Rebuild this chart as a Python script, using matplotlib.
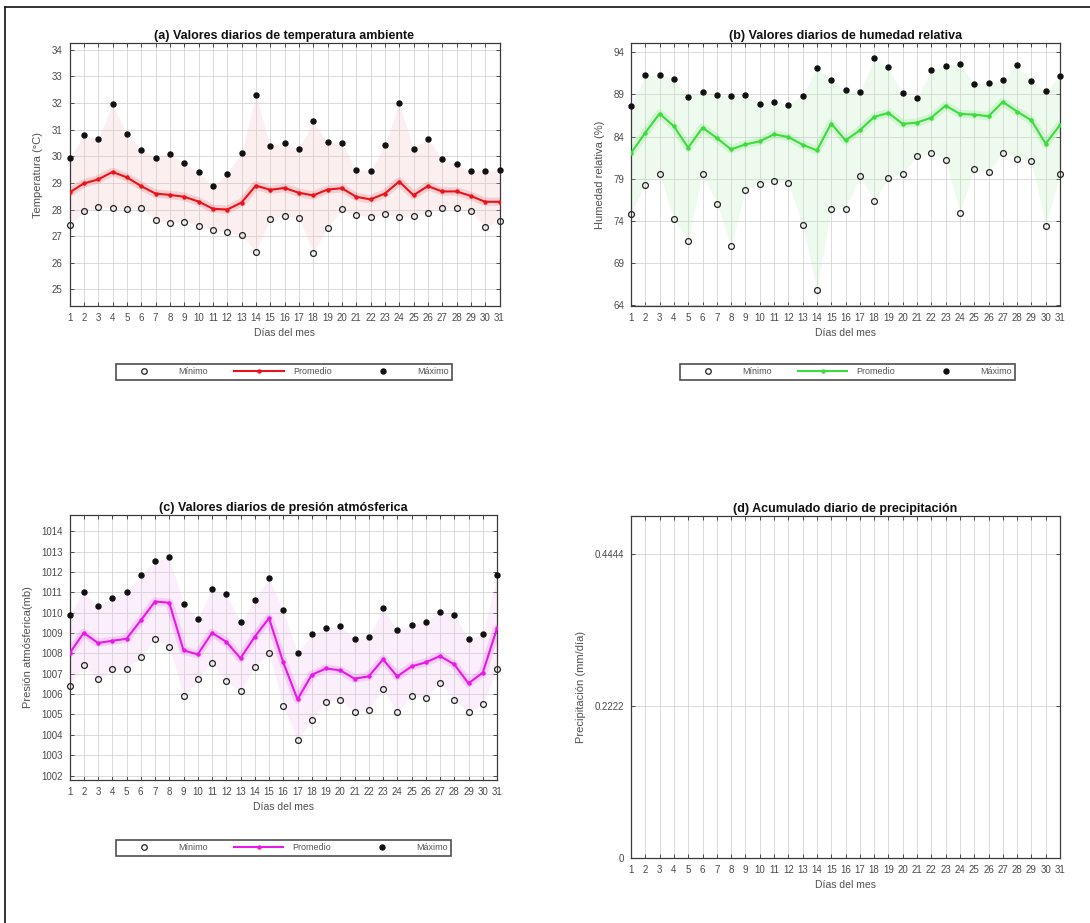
import matplotlib
matplotlib.use("Agg")
import matplotlib.pyplot as plt
from matplotlib.lines import Line2D

plt.rcParams['font.family'] = ['Liberation Sans', 'DejaVu Sans']

days = list(range(1, 32))
day_labels = [str(d) for d in days]

temp_max = [29.95, 30.8, 30.65, 31.95, 30.84, 30.25, 29.94, 30.08, 29.75, 29.4,
            28.88, 29.35, 30.14, 32.31, 30.4, 30.51, 30.28, 31.31, 30.53, 30.51,
            29.48, 29.45, 30.43, 32.0, 30.28, 30.66, 29.88, 29.71, 29.45, 29.45, 29.48]
temp_min = [27.41, 27.93, 28.1, 28.06, 28.03, 28.06, 27.6, 27.51, 27.55, 27.38,
            27.23, 27.16, 27.04, 26.41, 27.66, 27.75, 27.68, 26.38, 27.3, 28.01,
            27.81, 27.71, 27.83, 27.73, 27.74, 27.88, 28.05, 28.04, 27.94, 27.33, 27.58]
temp_avg = [28.64, 28.98, 29.13, 29.41, 29.21, 28.88, 28.6, 28.55, 28.48, 28.3,
            28.03, 28.0, 28.26, 28.9, 28.74, 28.81, 28.63, 28.53, 28.75, 28.8,
            28.48, 28.38, 28.6, 29.05, 28.54, 28.88, 28.68, 28.68, 28.51, 28.29, 28.29]

hum_max = [87.6, 91.26, 91.34, 90.82, 88.72, 89.27, 88.91, 88.87, 88.91, 87.92,
           88.16, 87.8, 88.87, 92.13, 90.7, 89.47, 89.23, 93.28, 92.21, 89.11,
           88.56, 91.93, 92.41, 92.61, 90.23, 90.38, 90.7, 92.49, 90.54, 89.35, 91.22]
hum_min = [74.81, 78.31, 79.58, 74.17, 71.63, 79.58, 76.0, 70.96, 77.71, 78.43,
           78.74, 78.47, 73.5, 65.75, 75.41, 75.37, 79.3, 76.4, 79.06, 79.58,
           81.68, 82.04, 81.17, 74.93, 80.21, 79.74, 82.04, 81.33, 81.05, 73.34, 79.58]
hum_avg = [82.04, 84.46, 86.73, 85.22, 82.68, 85.06, 83.83, 82.48, 83.07, 83.43,
           84.27, 83.95, 83.03, 82.36, 85.54, 83.55, 84.74, 86.33, 86.81, 85.5,
           85.66, 86.25, 87.68, 86.69, 86.61, 86.41, 88.12, 86.97, 85.93, 83.15, 85.38]

pres_max = [1009.91, 1011.02, 1010.32, 1010.73, 1011.02, 1011.83, 1012.53, 1012.72, 1010.44, 1009.70,
            1011.14, 1010.93, 1009.54, 1010.62, 1011.71, 1010.11, 1008.03, 1008.93, 1009.23, 1009.34,
            1008.72, 1008.83, 1010.24, 1009.13, 1009.42, 1009.54, 1010.03, 1009.91, 1008.72, 1008.93, 1011.83]
pres_min = [1006.41, 1007.43, 1006.73, 1007.21, 1007.21, 1007.82, 1008.72, 1008.33, 1005.92, 1006.73,
            1007.53, 1006.63, 1006.14, 1007.33, 1008.02, 1005.42, 1003.73, 1004.73, 1005.63, 1005.73,
            1005.12, 1005.24, 1006.23, 1005.12, 1005.92, 1005.83, 1006.53, 1005.73, 1005.12, 1005.53, 1007.21]
pres_avg = [1008.0, 1009.01, 1008.51, 1008.62, 1008.72, 1009.62, 1010.55, 1010.49, 1008.15, 1007.95,
            1009.01, 1008.57, 1007.76, 1008.82, 1009.73, 1007.56, 1005.74, 1006.95, 1007.26, 1007.17,
            1006.76, 1006.87, 1007.71, 1006.87, 1007.36, 1007.56, 1007.87, 1007.46, 1006.53, 1007.05, 1009.23]

precip = [0, 0, 0, 0, 0, 0, 0, 0, 0, 0, 0, 0, 0, 0, 0, 0, 0, 0, 0, 0,
          0, 0, 0, 0, 0, 0, 0, 0, 0, 0, 0]

temp_ticks = [25, 26, 27, 28, 29, 30, 31, 32, 33, 34]
hum_ticks = [64, 69, 74, 79, 84, 89, 94]
pres_ticks = list(range(1002, 1015))
precip_ticks = [0, 0.2222, 0.4444]
precip_ticklabels = ['0', '0.2222', '0.4444']

legend_labels = ['Mínimo', 'Promedio', 'Máximo']

W, H = 1090, 923
fig = plt.figure(figsize=(W / 100, H / 100), dpi=100)

def fx(px):
    return px / W

def fy(py):
    return 1 - py / H

def make_ax(l, r, t, b):
    return fig.add_axes([fx(l), fy(b), fx(r) - fx(l), fy(t) - fy(b)])

TICK_COLOR = '#4a4a4a'

def style(ax, ticks, ticklabels=None, ylim=None):
    ax.set_xlim(1, 31)
    ax.set_xticks(days)
    ax.set_xticklabels(day_labels)
    ax.set_yticks(ticks)
    if ticklabels is not None:
        ax.set_yticklabels(ticklabels)
    if ylim is not None:
        ax.set_ylim(*ylim)
    ax.tick_params(axis='both', direction='in', top=True, right=True,
                   length=3, width=0.6, labelsize=7, colors='#333333',
                   labelcolor=TICK_COLOR, pad=5)
    ax.grid(True, color='#d4d4d4', linewidth=0.6)
    ax.set_axisbelow(True)
    for s in ax.spines.values():
        s.set_color('#3a3a3a')
        s.set_linewidth(0.9)
    ax.set_xlabel('Días del mes', fontsize=7.5, color='#505050', labelpad=4)

def draw_panel(ax, mn, av, mx, color, fill):
    ax.fill_between(days, mn, mx, color=fill, alpha=0.22, linewidth=0, zorder=1)
    ax.plot(days, av, color=color, linewidth=6, alpha=0.15, zorder=2,
            solid_capstyle='round')
    ax.plot(days, av, color=color, linewidth=1.5, marker='o', markersize=2.2,
            zorder=3)
    ax.plot(days, mn, linestyle='none', marker='o', markersize=4.2,
            markerfacecolor='none', markeredgecolor='#222222',
            markeredgewidth=0.9, zorder=4, clip_on=False)
    ax.plot(days, mx, linestyle='none', marker='o', markersize=3.6,
            markerfacecolor='#111111', markeredgecolor='#111111', zorder=4,
            clip_on=False)

def add_legend(color, l, r, t, b):
    handles = [
        Line2D([], [], linestyle='none', marker='o', markersize=4,
               markerfacecolor='none', markeredgecolor='#222222', markeredgewidth=0.9),
        Line2D([], [], color=color, linewidth=1.5, marker='o', markersize=2.2),
        Line2D([], [], linestyle='none', marker='o', markersize=3.6,
               markerfacecolor='#111111', markeredgecolor='#111111'),
    ]
    leg = fig.legend(handles, legend_labels, loc='center', ncol=3,
                     bbox_to_anchor=(fx(l), fy(b), fx(r) - fx(l), fy(t) - fy(b)),
                     mode='expand', fontsize=6.5, handlelength=5.5,
                     handletextpad=1.0, columnspacing=1.0, borderpad=0.35,
                     frameon=True, fancybox=False, borderaxespad=0)
    leg.get_frame().set_edgecolor('#222222')
    leg.get_frame().set_linewidth(1.2)
    for t_ in leg.get_texts():
        t_.set_color('#555555')
    return leg

# (a) temperature
axa = make_ax(69.5, 499.5, 43, 306)
draw_panel(axa, temp_min, temp_avg, temp_max, '#e8141b', '#f5b8bd')
style(axa, temp_ticks, ylim=(24.38, 34.25))
axa.set_title('(a) Valores diarios de temperatura ambiente', fontsize=9,
              fontweight='bold', color='#111111', pad=3)
axa.set_ylabel('Temperatura (°C)', fontsize=8, color='#505050', labelpad=6)
add_legend('#e8141b', 116, 452, 361, 383)

# (b) humidity
axb = make_ax(631, 1060, 43, 306)
draw_panel(axb, hum_min, hum_avg, hum_max, '#3ddc3d', '#b8ecb8')
style(axb, hum_ticks, ylim=(63.9, 95.1))
axb.set_title('(b) Valores diarios de humedad relativa', fontsize=9,
              fontweight='bold', color='#111111', pad=3)
axb.set_ylabel('Humedad relativa (%)', fontsize=8, color='#505050', labelpad=6)
add_legend('#3ddc3d', 680, 1015, 361, 383)

# (c) pressure
axc = make_ax(69.5, 497, 515, 780)
draw_panel(axc, pres_min, pres_avg, pres_max, '#e619e6', '#f0b8f0')
style(axc, pres_ticks, ylim=(1001.78, 1014.8))
axc.set_title('(c) Valores diarios de presión atmósferica', fontsize=9,
              fontweight='bold', color='#111111', pad=3)
axc.set_ylabel('Presión atmósferica(mb)', fontsize=8, color='#505050', labelpad=6)
add_legend('#e619e6', 116, 451, 837, 859)

# (d) precipitation
axd = make_ax(631, 1060, 516, 858)
axd.bar(days, precip, width=0.8, color='#3a7ad8')
style(axd, precip_ticks, precip_ticklabels, ylim=(0, 0.5))
axd.set_title('(d) Acumulado diario de precipitación', fontsize=9,
              fontweight='bold', color='#111111', pad=3)
axd.set_ylabel('Precipitación (mm/día)', fontsize=8, color='#505050', labelpad=6)

# figure frame (top and left border lines)
fig.add_artist(Line2D([fx(5), 1], [fy(7), fy(7)], color='#222222', linewidth=1.3))
fig.add_artist(Line2D([fx(5), fx(5)], [fy(7), 0], color='#222222', linewidth=1.3))

fig.savefig('out.png', dpi=100)
